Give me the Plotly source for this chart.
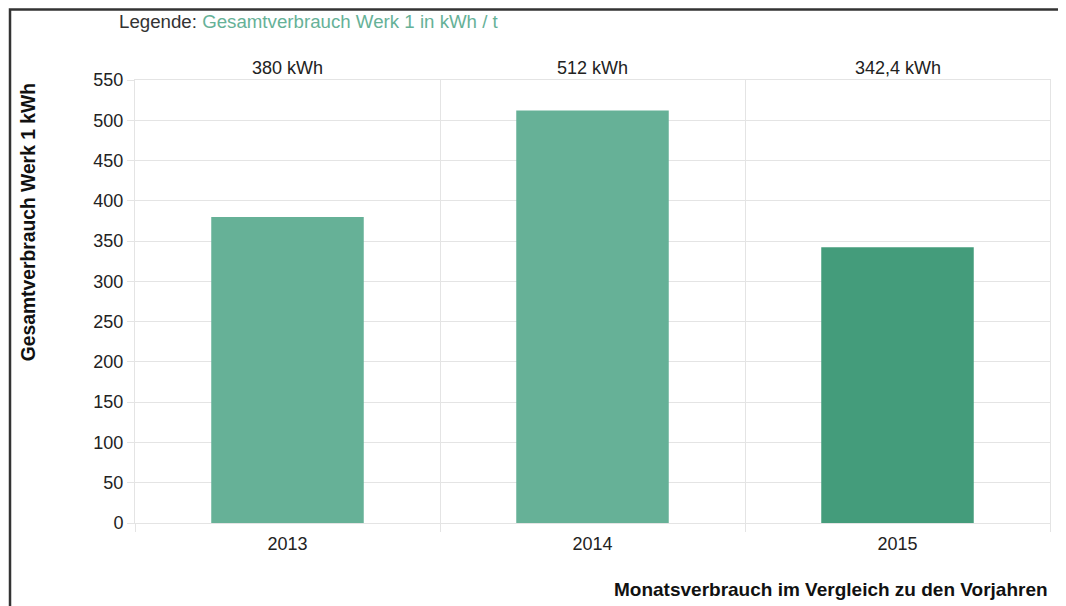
import plotly.graph_objects as go

years = ["2013", "2014", "2015"]
verbrauch = [380, 512, 342.4]
bar_labels = ["380 kWh", "512 kWh", "342,4 kWh"]
bar_colors = ["#66b197", "#66b197", "#449c7b"]

fig = go.Figure(go.Bar(x=years, y=verbrauch, marker_color=bar_colors,
                       marker_line_width=0, width=0.5))

# labels above the plot area (category index as x)
for i, lab in enumerate(bar_labels):
    fig.add_annotation(x=i, y=1.0, xref="x", yref="paper", text=lab,
                       showarrow=False, yanchor="bottom", yshift=0,
                       font=dict(size=18, color="#222"))

# y-axis title as annotation (sits high, not centred)
fig.add_annotation(x=-0.117, y=0.997, xref="paper", yref="paper",
                   text="<b>Gesamtverbrauch Werk 1 kWh</b>", textangle=-90,
                   showarrow=False, xanchor="center", yanchor="top",
                   font=dict(size=19.3, color="#111"))

# x-axis title bottom right
fig.add_annotation(x=1.0, y=-0.151, xref="paper", yref="paper",
                   text="<b>Monatsverbrauch im Vergleich zu den Vorjahren</b>",
                   showarrow=False, xanchor="right", yanchor="middle",
                   font=dict(size=19, color="#111"))

# legend line
fig.add_annotation(x=-0.0197, y=1.131, xref="paper", yref="paper",
                   text="<span style='color:#333'>Legende: </span>"
                        "<span style='color:#66b197'>Gesamtverbrauch Werk 1 in kWh / t</span>",
                   showarrow=False, xanchor="left", yanchor="middle",
                   font=dict(size=18.7))

# outer frame (cut off at right and bottom)
fig.add_shape(type="rect", xref="paper", yref="paper",
              x0=-0.1366, x1=1.2, y0=-0.4, y1=1.159,
              line=dict(color="#333", width=2.5), fillcolor="rgba(0,0,0,0)")

fig.update_layout(
    width=1058, height=598,
    margin=dict(l=127, r=16, t=72, b=83),
    paper_bgcolor="white", plot_bgcolor="white",
    font=dict(family="Liberation Sans, Arial, sans-serif", color="#222"),
    showlegend=False,
)
fig.update_xaxes(type="category", range=[-0.5, 2.5], tickson="boundaries",
                 showgrid=True, gridcolor="#e4e4e4", gridwidth=1,
                 ticks="outside", ticklen=8, tickcolor="#e4e4e4",
                 ticklabelstandoff=4,
                 showline=True, linecolor="#e4e4e4", mirror=True,
                 tickfont=dict(size=18, color="#222"))
fig.update_yaxes(range=[0, 550], dtick=50, showgrid=True, gridcolor="#e4e4e4",
                 ticks="outside", ticklen=7, tickcolor="#e4e4e4",
                 showline=True, linecolor="#e4e4e4", mirror=True,
                 zeroline=False, tickfont=dict(size=18, color="#222"))

fig.write_html("out.html")
